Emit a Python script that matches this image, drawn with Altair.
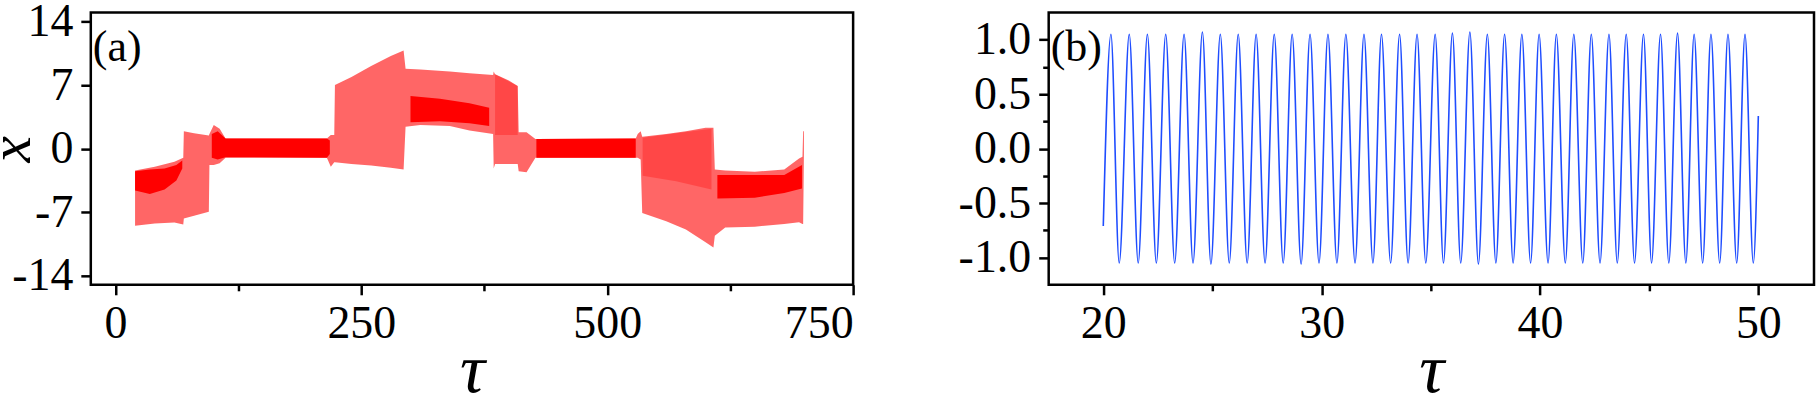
import altair as alt
import pandas as pd

# ---------------- Panel (a): envelope of the oscillating signal x(tau) ----------------
a_tau = [20, 40, 60, 69, 69.6, 80, 95, 95.6, 100, 106, 112, 215, 219, 222.5, 223.2, 240, 260, 280, 293,
         295, 310, 340, 360, 384, 384.6, 386, 400, 409, 410, 418, 427, 529, 531, 534, 535.6, 560, 580,
         600, 608, 609.4, 620, 650, 680, 695, 698.5, 699.2, 700]
a_hi = [-2.4, -2.0, -1.45, -1.0, 1.9, 1.7, 1.45, 1.6, 2.6, 2.2, 1.1, 1.1, 1.5, 1.5, 7.0, 7.9, 9.1, 10.2, 10.8,
        8.8, 8.7, 8.5, 8.3, 8.1, 8.5, 8.2, 7.5, 6.9, 1.8, 1.8, 1.05, 1.1, 1.6, 1.9, 1.3, 1.6, 1.9,
        2.3, 2.3, -2.3, -2.4, -2.55, -2.3, -1.1, -0.9, 1.9, 1.9]
a_lo = [-8.5, -8.25, -8.15, -8.35, -7.7, -7.4, -6.95, -1.8, -1.8, -1.6, -1.0, -1.0, -2.0, -1.5, -1.5, -1.7, -1.85, -2.1, -2.3,
        2.4, 2.6, 2.5, 2.0, 1.6, -2.2, -1.7, -1.7, -1.7, -2.5, -2.6, -1.0, -1.0, -1.0, -1.2, -7.1, -8.0, -8.9,
        -10.3, -10.9, -9.6, -8.7, -8.6, -8.3, -8.1, -8.3, -8.3, -0.5]

# denser parts of the spikes
mid_seg = ["G", "G", "I", "I", "I"]
mid_tau = [386, 409, 536, 570, 606]
mid_hi = [8.2, 6.9, 1.2, 1.7, 2.2]
mid_lo = [1.5, 1.5, -3.0, -3.6, -4.5]

# dense cores of the signal
core_seg = ["A", "A", "A", "A", "A", "B", "B", "B", "B", "B", "C", "C", "C", "C", "D", "D", "E", "E", "E", "E"]
core_tau = [20, 35, 50, 62, 68, 98, 104, 112, 215, 218, 300, 330, 360, 380, 428, 529, 612, 650, 680, 698]
core_hi = [-2.5, -2.3, -2.2, -1.8, -1.3, 1.6, 1.9, 1.1, 1.1, 0.9, 5.8, 5.5, 5.0, 4.5, 1.05, 1.1, -2.9, -2.9, -2.9, -1.8]
core_lo = [-4.6, -5.0, -4.5, -3.5, -2.2, -1.0, -1.2, -0.95, -1.0, -0.6, 2.9, 3.0, 2.8, 2.5, -1.0, -1.0, -5.5, -5.4, -4.9, -4.4]

# ---------------- Panel (b): extrema of the sinusoid ----------------
b_tau = [20.0, 20.35, 20.73, 21.19, 21.60, 22.02, 22.43, 22.86, 23.27, 23.70, 24.11, 24.54, 24.93, 25.36, 25.77,
         26.18, 26.59, 27.00, 27.41, 27.83, 28.24, 28.65, 29.06, 29.47, 29.88, 30.29, 30.70, 31.11, 31.53, 31.94,
         32.35, 32.74, 33.16, 33.57, 33.96, 34.37, 34.77, 35.20, 35.58, 35.99, 36.37, 36.79, 37.18, 37.59, 37.98,
         38.38, 38.77, 39.17, 39.57, 39.96, 40.37, 40.75, 41.16, 41.55, 41.96, 42.35, 42.75, 43.16, 43.54, 43.95,
         44.33, 44.74, 45.11, 45.52, 45.90, 46.30, 46.68, 47.06, 47.45, 47.83, 48.23, 48.61, 49.01, 49.39, 49.77,
         50.0]
b_x = [-0.71, 1.05, -1.05, 1.05, -1.05, 1.05, -1.05, 1.05, -1.05, 1.05, -1.05, 1.07, -1.06, 1.05, -1.05,
       1.05, -1.05, 1.05, -1.05, 1.05, -1.05, 1.05, -1.06, 1.05, -1.05, 1.05, -1.05, 1.05, -1.05, 1.05,
       -1.05, 1.05, -1.05, 1.05, -1.05, 1.05, -1.05, 1.05, -1.05, 1.06, -1.05, 1.07, -1.06, 1.05, -1.05,
       1.05, -1.05, 1.05, -1.05, 1.05, -1.05, 1.05, -1.05, 1.05, -1.05, 1.05, -1.05, 1.05, -1.05, 1.05,
       -1.05, 1.05, -1.05, 1.05, -1.05, 1.06, -1.05, 1.05, -1.05, 1.05, -1.05, 1.05, -1.05, 1.05, -1.05,
       0.30]

env_df = pd.DataFrame({"tau": a_tau, "hi": a_hi, "lo": a_lo})
mid_df = pd.DataFrame({"seg": mid_seg, "tau": mid_tau, "hi": mid_hi, "lo": mid_lo})
core_df = pd.DataFrame({"seg": core_seg, "tau": core_tau, "hi": core_hi, "lo": core_lo})
b_df = pd.DataFrame({"tau": b_tau, "x": b_x})

FONT = "Liberation Serif"
MINUS = "\u2212"

common = dict(labelFont=FONT, labelFontSize=46, labelColor="black", titleFont=FONT,
              titleFontStyle="italic", titleFontWeight="normal", titleColor="black", domain=False, grid=False,
              tickColor="black", tickWidth=2.5)

x_title = dict(title="τ", titleFontSize=70, titleBaseline="alphabetic", titleY=107)

ax_a_x = alt.Axis(values=[0, 125, 250, 375, 500, 625, 750],
                  labelExpr="datum.value % 250 === 0 ? datum.label : ''",
                  tickSize={"condition": {"test": "datum.value % 250 !== 0", "value": 6}, "value": 10},
                  labelPadding=7, **x_title, **common)
ax_a_y = alt.Axis(values=[-14, -10.5, -7, -3.5, 0, 3.5, 7, 10.5, 14],
                  labelExpr=f"datum.value % 7 === 0 ? replace(datum.label, '{MINUS}', '-') : ''",
                  tickSize={"condition": {"test": "datum.value % 7 !== 0", "value": 6}, "value": 10},
                  labelPadding=8, title="x", titleFontSize=60, titleBaseline="alphabetic", titleX=-61,
                  **common)
ax_b_x = alt.Axis(values=[20, 25, 30, 35, 40, 45, 50],
                  labelExpr="datum.value % 10 === 0 ? datum.label : ''",
                  tickSize={"condition": {"test": "datum.value % 10 !== 0", "value": 6}, "value": 10},
                  labelPadding=7, **x_title, **common)
ax_b_y = alt.Axis(values=[-1, -0.75, -0.5, -0.25, 0, 0.25, 0.5, 0.75, 1],
                  labelExpr=f"abs(datum.value) % 0.5 === 0 ? replace(format(datum.value, '.1f'), '{MINUS}', '-') : ''",
                  tickSize={"condition": {"test": "abs(datum.value) % 0.5 !== 0", "value": 6}, "value": 10},
                  labelPadding=8, title=None, **common)

xa = alt.X("tau:Q", scale=alt.Scale(domain=[-25, 750], nice=False, zero=False), axis=ax_a_x)
ya = alt.Y("hi:Q", scale=alt.Scale(domain=[-15, 15], nice=False, zero=False), axis=ax_a_y)

env = alt.Chart(env_df).mark_area(color="#ff0000", opacity=0.6, interpolate="linear").encode(
    x=xa, y=ya, y2="lo:Q")
mid = alt.Chart(mid_df).mark_area(color="#ff0000", opacity=0.3, interpolate="linear").encode(
    x=alt.X("tau:Q"), y=alt.Y("hi:Q"), y2="lo:Q", detail="seg:N")
core = alt.Chart(core_df).mark_area(color="#ff0000", opacity=1, interpolate="linear").encode(
    x=alt.X("tau:Q"), y=alt.Y("hi:Q"), y2="lo:Q", detail="seg:N")
lab_a = alt.Chart(pd.DataFrame({"t": ["(a)"]})).mark_text(
    font=FONT, fontSize=44, align="left", baseline="alphabetic", color="black").encode(
    x=alt.value(2), y=alt.value(49), text="t:N")

panel_a = alt.layer(env, mid, core, lab_a).properties(width=764, height=273)

line_b = alt.Chart(b_df).mark_line(color="#1f4dff", strokeWidth=1.6, interpolate="monotone").encode(
    x=alt.X("tau:Q", scale=alt.Scale(domain=[17.5, 52.55], nice=False, zero=False), axis=ax_b_x),
    y=alt.Y("x:Q", scale=alt.Scale(domain=[-1.25, 1.25], nice=False, zero=False), axis=ax_b_y))
lab_b = alt.Chart(pd.DataFrame({"t": ["(b)"]})).mark_text(
    font=FONT, fontSize=44, align="left", baseline="alphabetic", color="black").encode(
    x=alt.value(2), y=alt.value(49), text="t:N")

panel_b = alt.layer(line_b, lab_b).properties(width=767, height=273)

chart = alt.hconcat(panel_a, panel_b, spacing=100).configure_view(
    stroke="black", strokeWidth=2.5).properties(
    padding={"left": -20, "top": -4, "right": 0, "bottom": -13}, background="white")

chart.save("out.html", embed_options={"renderer": "svg", "actions": False})
